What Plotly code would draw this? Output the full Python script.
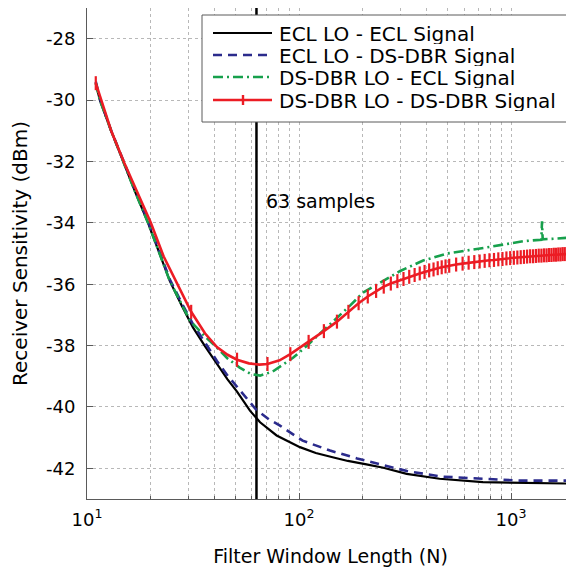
import plotly.graph_objects as go

# ---- data ----
n_ecl_ecl = [11, 11.5, 13, 14.8, 17, 19.4, 22, 24.6, 28, 31.6, 36, 41, 46, 51, 58.7, 65.5, 72, 78.4,
             101, 120, 144, 170, 208, 250, 322, 460, 737, 1000, 1270, 1500, 1960, 2048]
sens_ecl_ecl = [-29.45, -30.0, -31.0, -32.0, -33.05, -34.0, -35.0, -35.9, -36.7, -37.41, -38.02, -38.59,
                -39.1, -39.5, -40.12, -40.5, -40.72, -40.93, -41.31, -41.5, -41.64, -41.76, -41.87,
                -41.98, -42.18, -42.34, -42.45, -42.47, -42.49, -42.5, -42.5, -42.5]

n_ecl_dsdbr = [11, 11.5, 13, 14.8, 17, 19.4, 22, 24.6, 28, 31.6, 36.8, 41, 45.7, 51, 58.7, 63, 72, 81,
               104, 140, 188, 248, 323, 470, 713, 1100, 1670, 2048]
sens_ecl_dsdbr = [-29.4, -29.95, -31.0, -31.95, -33.0, -33.95, -34.95, -35.85, -36.62, -37.3, -38.0,
                  -38.5, -38.95, -39.35, -39.85, -40.1, -40.4, -40.6, -41.1, -41.42, -41.68, -41.9,
                  -42.09, -42.27, -42.34, -42.4, -42.4, -42.4]

n_dsdbr_ecl = [11, 11.5, 13, 14.8, 17, 19.4, 22, 24.6, 30.6, 36, 41, 46, 52.5, 59, 65.5, 75, 84, 93.7,
               110, 130, 156, 174, 200, 250, 300, 385, 500, 770, 1020, 1140, 1390, 1400, 1410, 1600,
               1960, 2048]
sens_dsdbr_ecl = [-29.45, -30.0, -31.0, -32.0, -33.05, -34.0, -35.0, -35.9, -37.19, -37.7, -38.07,
                  -38.42, -38.72, -38.92, -38.98, -38.85, -38.62, -38.4, -37.98, -37.52, -37.02,
                  -36.7, -36.28, -35.88, -35.57, -35.23, -35.0, -34.8, -34.66, -34.6, -34.55,
                  -33.95, -34.54, -34.52, -34.48, -34.47]

# red curve (line through all samples at low N) and its '+' markers every 20 samples
n_dsdbr_dsdbr_line = [11, 13, 15, 17.5, 20, 23, 26.6, 31, 36, 41, 46, 51, 58, 65, 71, 81, 91]
sens_dsdbr_dsdbr_line = [-29.45, -31.0, -32.05, -33.1, -34.0, -35.1, -36.0, -36.9, -37.6, -38.05,
                         -38.3, -38.46, -38.58, -38.62, -38.6, -38.48, -38.28]
n_dsdbr_dsdbr = [11, 31, 51, 71, 91, 111, 131, 151, 171, 191, 211, 231, 251, 271, 291, 311, 331, 351,
                 371, 391, 411, 431, 451, 471, 491, 511, 551, 591, 631, 671, 711, 751, 791, 831, 871,
                 911, 951, 991, 1031, 1071, 1111, 1151, 1191, 1231, 1271, 1311, 1351, 1391, 1431,
                 1471, 1511, 1551, 1591, 1631, 1671, 1711, 1751, 1791, 1831, 1871, 1911, 1951, 1991,
                 2031]
sens_dsdbr_dsdbr = [-29.45, -36.9, -38.46, -38.6, -38.28, -37.88, -37.53, -37.22, -36.9, -36.62,
                    -36.4, -36.22, -36.08, -35.98, -35.9, -35.83, -35.76, -35.7, -35.65, -35.6,
                    -35.55, -35.52, -35.48, -35.45, -35.42, -35.4, -35.36, -35.33, -35.3, -35.28,
                    -35.26, -35.24, -35.22, -35.21, -35.19, -35.18, -35.16, -35.15, -35.14, -35.13,
                    -35.12, -35.11, -35.1, -35.09, -35.09, -35.08, -35.07, -35.07, -35.06, -35.06,
                    -35.05, -35.05, -35.04, -35.04, -35.03, -35.03, -35.02, -35.02, -35.02, -35.01,
                    -35.01, -35.0, -35.0, -35.0]

series_names = ["ECL LO - ECL Signal", "ECL LO - DS-DBR Signal",
                "DS-DBR LO - ECL Signal", "DS-DBR LO - DS-DBR Signal"]
marker_samples = 63
marker_label = "63 samples"

x_major = [10, 100, 1000]
x_major_text = ["10<sup>1</sup>", "10<sup>2</sup>", "10<sup>3</sup>"]
x_minor = [20, 30, 40, 50, 60, 70, 80, 90, 200, 300, 400, 500, 600, 700, 800, 900, 2000]
y_ticks = [-42, -40, -38, -36, -34, -32, -30, -28]
y_tick_text = ["-42", "-40", "-38", "-36", "-34", "-32", "-30", "-28"]
y_range = [-43, -27]

FONT = "DejaVu Sans, sans-serif"
FS = 18
AX = "#5a5a5a"
GRID = "#b8b8b8"
BLACK = "black"
BLUE = "#2b2b8c"
GREEN = "#17a04c"
RED = "#ec1c24"
BLUE_DASH = "9px,6px"
GREEN_DASH = "10px,4px,2px,4px"

fig = go.Figure()

# vertical marker line
fig.add_trace(go.Scatter(x=[marker_samples, marker_samples], y=y_range, mode="lines",
                         line=dict(color="black", width=2.5), showlegend=False, hoverinfo="skip"))

fig.add_trace(go.Scatter(x=n_ecl_ecl, y=sens_ecl_ecl, mode="lines", name=series_names[0],
                         line=dict(color=BLACK, width=2.2)))
fig.add_trace(go.Scatter(x=n_ecl_dsdbr, y=sens_ecl_dsdbr, mode="lines", name=series_names[1],
                         line=dict(color=BLUE, width=2.6, dash=BLUE_DASH)))
fig.add_trace(go.Scatter(x=n_dsdbr_ecl, y=sens_dsdbr_ecl, mode="lines", name=series_names[2],
                         line=dict(color=GREEN, width=2.6, dash=GREEN_DASH)))
fig.add_trace(go.Scatter(x=n_dsdbr_dsdbr_line, y=sens_dsdbr_dsdbr_line, mode="lines",
                         line=dict(color=RED, width=2.6), name=series_names[3]))
red_mask = [n >= 91 for n in n_dsdbr_dsdbr]
fig.add_trace(go.Scatter(x=[n for n, m in zip(n_dsdbr_dsdbr, red_mask) if m],
                         y=[v for v, m in zip(sens_dsdbr_dsdbr, red_mask) if m],
                         mode="lines", line=dict(color=RED, width=2.6), name=series_names[3]))
fig.add_trace(go.Scatter(x=n_dsdbr_dsdbr, y=sens_dsdbr_dsdbr, mode="markers", name=series_names[3],
                         marker=dict(symbol="line-ns", size=10, color=RED, line=dict(color=RED, width=2.2))))

fig.add_annotation(x=1.835, y=-33.3, xref="x", yref="y", text=marker_label, showarrow=False,
                   xanchor="left", yanchor="middle", font=dict(family=FONT, size=19, color="black"))

# ---- legend box (drawn in paper coordinates) ----
# page offsets: plot area spans x 87..574, y 8..499 in the window
def px(xw):
    return (xw - 87) / 487.0

def py(yw):
    return 1 - (yw - 8) / 491.0

fig.add_shape(type="rect", xref="paper", yref="paper", x0=px(202), x1=px(570), y0=py(122), y1=py(15),
              line=dict(color=AX, width=1), fillcolor="white", layer="above")
legend_rows = [33, 55, 77, 100]
legend_styles = [(BLACK, 2.2, "solid"), (BLUE, 2.6, BLUE_DASH), (GREEN, 2.6, GREEN_DASH), (RED, 2.6, "solid")]
for name, yw, (col, w, d) in zip(series_names, legend_rows, legend_styles):
    fig.add_shape(type="line", xref="paper", yref="paper", x0=px(213), x1=px(272), y0=py(yw), y1=py(yw),
                  line=dict(color=col, width=w, dash=d), layer="above")
    fig.add_annotation(xref="paper", yref="paper", x=px(277), y=py(yw + 0.5), text=name, showarrow=False,
                       xanchor="left", yanchor="middle", height=21, valign="middle",
                       font=dict(family=FONT, size=20, color="black"))
fig.add_shape(type="line", xref="paper", yref="paper", x0=px(243), x1=px(243),
              y0=py(legend_rows[3] + 5), y1=py(legend_rows[3] - 5),
              line=dict(color=RED, width=2.4), layer="above")

fig.update_xaxes(type="log", range=[1, 3.297], tickmode="array", tickvals=x_major,
                 ticktext=x_major_text, ticks="inside", ticklen=6, tickcolor=AX,
                 showline=True, linecolor=AX, linewidth=1, mirror=True,
                 showgrid=True, gridcolor=GRID, griddash="dot", gridwidth=1,
                 minor=dict(tickmode="array", tickvals=x_minor, ticks="inside", ticklen=3,
                            tickcolor=AX, showgrid=True, gridcolor=GRID, griddash="dot", gridwidth=1),
                 tickfont=dict(family=FONT, size=FS, color="black"),
                 title=dict(text="Filter Window Length (N)", font=dict(family=FONT, size=19, color="black"),
                            standoff=24),
                 ticklabelstandoff=4, zeroline=False, automargin=False)
fig.update_yaxes(range=y_range, tickmode="array", tickvals=y_ticks, ticktext=y_tick_text,
                 ticks="inside", ticklen=6, tickcolor=AX,
                 showline=True, linecolor=AX, linewidth=1, mirror=False,
                 showgrid=True, gridcolor=GRID, griddash="dot", gridwidth=1,
                 tickfont=dict(family=FONT, size=FS, color="black"),
                 title=dict(text="Receiver Sensitivity (dBm)", font=dict(family=FONT, size=20, color="black"),
                            standoff=12),
                 ticklabelstandoff=7, zeroline=False, automargin=False)

# the page body has an 8px margin, so the figure is sized to end at the window edges
fig.update_layout(width=566, height=559, margin=dict(l=79, r=0, t=0, b=68),
                  paper_bgcolor="white", plot_bgcolor="white",
                  font=dict(family=FONT, size=FS, color="black"),
                  showlegend=False)

fig.write_html("out.html")
